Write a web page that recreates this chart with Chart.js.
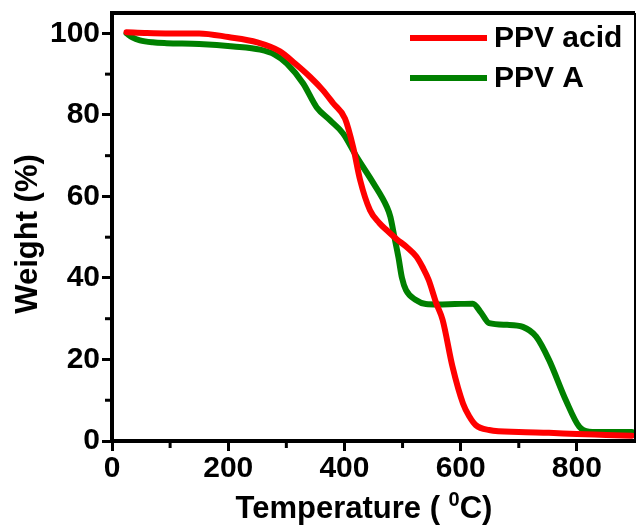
<!DOCTYPE html>
<html lang="en">
<head>
  <meta charset="UTF-8" />
  <title>TGA - PPV acid / PPV A</title>
  <script src="https://cdn.jsdelivr.net/npm/chart.js"></script>
  <style>
    body { margin:0; background:#fff; }
  </style>
</head>
<body>
  <canvas id="tga" width="636" height="525"></canvas>

  <script>
    // values
    const tempAcid   = [25, 60, 100, 150, 200, 250, 289, 315, 341, 362, 381, 401, 415, 427, 444, 460, 473, 490, 507, 524, 535, 545, 558, 569, 586, 604, 615, 626, 649, 700, 752, 800, 850, 895];
    const weightAcid = [100.3, 100.1, 100, 100, 99.1, 97.8, 95.6, 92.6, 89.3, 86.2, 82.8, 79.1, 72.1, 64, 56.6, 53.5, 51.7, 49.5, 47.6, 45.2, 42.5, 39.5, 33.8, 29.7, 18.2, 9.2, 6, 3.9, 2.7, 2.2, 2.0, 1.7, 1.5, 1.3];

    const tempA   = [25, 35, 48, 70, 94, 150, 209, 255, 280, 301, 329, 352, 375, 398, 421, 450, 473, 479, 486, 493, 499, 506, 523, 540, 560, 590, 621, 635, 649, 680, 707, 730, 752, 781, 804, 821, 850, 895];
    const weightA = [100, 99, 98.3, 97.8, 97.6, 97.4, 96.8, 96.0, 94.8, 92.6, 87.7, 81.9, 78.7, 75.4, 69.7, 63.2, 57.4, 55, 50, 45, 40, 37, 34.6, 33.6, 33.5, 33.6, 33.7, 31.5, 28.9, 28.5, 28, 25.6, 19.9, 10, 3.5, 2.3, 2.2, 2.2];

    const seriesNames  = ['PPV acid', 'PPV A'];
    const xMajorTicks  = [0, 200, 400, 600, 800];
    const xMinorTicks  = [100, 300, 500, 700];
    const yMajorTicks  = [0, 20, 40, 60, 80, 100];
    const yMinorTicks  = [10, 30, 50, 70, 90];

    const FONT = "'Liberation Sans', Arial, sans-serif";

    function toPoints(xs, ys) {
      return xs.map((x, i) => ({ x: x, y: ys[i] }));
    }

    // frame, minor ticks, legend and axis titles
    const extras = {
      id: 'extras',
      afterDraw(chart) {
        const c = chart.ctx;
        const a = chart.chartArea;
        const sx = chart.scales.x, sy = chart.scales.y;
        c.save();
        c.strokeStyle = '#000';

        // top + right border
        c.lineWidth = 4;
        c.beginPath(); c.moveTo(a.left - 2, a.top); c.lineTo(a.right, a.top); c.stroke();
        c.lineWidth = 2;
        c.beginPath(); c.moveTo(a.right, a.top); c.lineTo(a.right, a.bottom); c.stroke();

        // minor ticks
        c.lineWidth = 3;
        xMinorTicks.forEach(v => {
          const px = sx.getPixelForValue(v);
          c.beginPath(); c.moveTo(px, a.bottom); c.lineTo(px, a.bottom + 7); c.stroke();
        });
        yMinorTicks.forEach(v => {
          const py = sy.getPixelForValue(v);
          c.beginPath(); c.moveTo(a.left, py); c.lineTo(a.left - 7, py); c.stroke();
        });

        // legend
        c.font = 'bold 30px ' + FONT;
        c.textBaseline = 'middle';
        c.textAlign = 'left';
        chart.data.datasets.forEach((ds, i) => {
          const y = 38 + i * 40;
          c.strokeStyle = ds.borderColor;
          c.lineWidth = 6;
          c.beginPath(); c.moveTo(410, y); c.lineTo(487, y); c.stroke();
          c.fillStyle = '#000';
          c.fillText(ds.label, 494, y + 1);
        });

        // y title
        c.fillStyle = '#000';
        c.save();
        c.translate(28, 234);
        c.rotate(-Math.PI / 2);
        c.textAlign = 'center';
        c.font = 'bold 31px ' + FONT;
        c.fillText('Weight (%)', 0, 0);
        c.restore();

        // x title with superscript 0
        const p1 = 'Temperature ( ', sup = '0', p2 = 'C)';
        c.textBaseline = 'alphabetic';
        c.font = 'bold 31px ' + FONT;
        const w1 = c.measureText(p1).width, w3 = c.measureText(p2).width;
        c.font = 'bold 20px ' + FONT;
        const w2 = c.measureText(sup).width;
        let x = 364 - (w1 + w2 + w3) / 2;
        const base = 518;
        c.font = 'bold 31px ' + FONT;
        c.fillText(p1, x, base); x += w1;
        c.font = 'bold 20px ' + FONT;
        c.fillText(sup, x, base - 12); x += w2;
        c.font = 'bold 31px ' + FONT;
        c.fillText(p2, x, base);

        c.restore();
      }
    };

    const tickFont = { family: FONT, size: 30, weight: 'bold' };

    new Chart(document.getElementById('tga'), {
      type: 'line',
      data: {
        datasets: [
          { label: seriesNames[0], data: toPoints(tempAcid, weightAcid), borderColor: '#ff0000', borderWidth: 6,
            pointRadius: 0, cubicInterpolationMode: 'monotone', fill: false, borderCapStyle: 'round', borderJoinStyle: 'round' },
          { label: seriesNames[1], data: toPoints(tempA, weightA), borderColor: '#008000', borderWidth: 6,
            pointRadius: 0, cubicInterpolationMode: 'monotone', fill: false, borderCapStyle: 'round', borderJoinStyle: 'round' }
        ]
      },
      options: {
        responsive: false,
        animation: false,
        layout: { padding: { top: 13, right: 1, left: 0, bottom: 0 } },
        plugins: { legend: { display: false }, tooltip: { enabled: false } },
        scales: {
          x: {
            type: 'linear', min: 0, max: 900,
            afterBuildTicks: s => { s.ticks = xMajorTicks.map(v => ({ value: v })); },
            afterFit: s => { s.height = 84; s.paddingLeft = 0; s.paddingRight = 0; },
            ticks: { font: tickFont, color: '#000', padding: 0, maxRotation: 0, autoSkip: false },
            grid: { display: true, drawOnChartArea: false, drawTicks: true, tickLength: 10, tickWidth: 3, tickColor: '#000' },
            border: { display: true, width: 4, color: '#000' }
          },
          y: {
            type: 'linear', min: 0, max: 105,
            afterBuildTicks: s => { s.ticks = yMajorTicks.map(v => ({ value: v })); },
            afterFit: s => { s.width = 112; s.paddingTop = 0; s.paddingBottom = 0; },
            ticks: { font: tickFont, color: '#000', padding: 2, autoSkip: false },
            grid: { display: true, drawOnChartArea: false, drawTicks: true, tickLength: 10, tickWidth: 3, tickColor: '#000' },
            border: { display: true, width: 4, color: '#000' }
          }
        }
      },
      plugins: [extras]
    });
  </script>
</body>
</html>
